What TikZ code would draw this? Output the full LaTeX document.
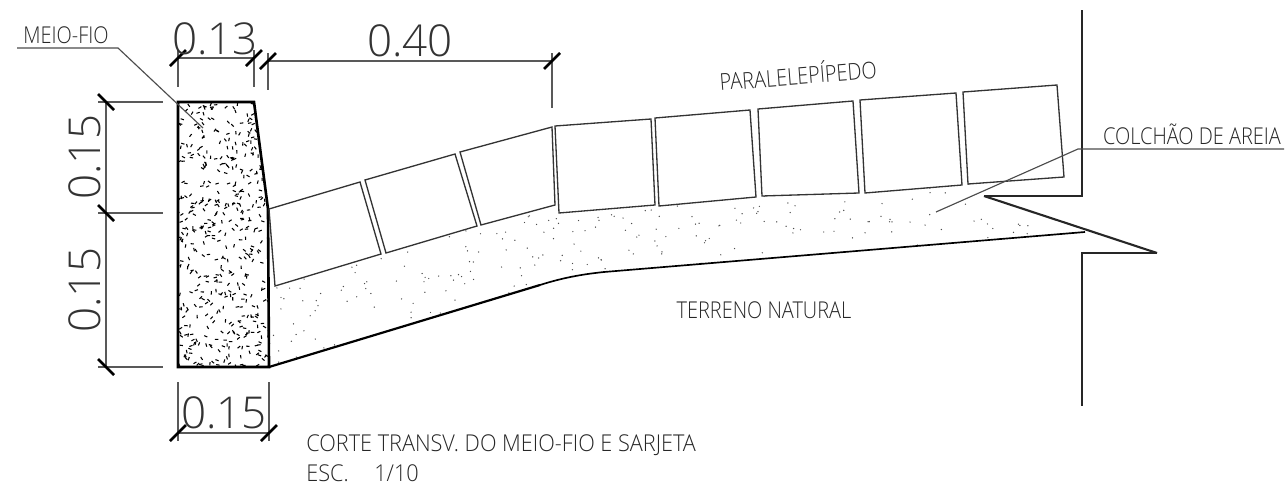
\documentclass[tikz,border=0pt]{standalone}
\usepackage{fontspec}
\newfontfamily\cadfont[FakeStretch=0.86]{Open Sans Light}
\newfontfamily\cadwide[FakeStretch=0.935]{Open Sans Light}
\newfontfamily\dimfont{Open Sans Light}
\usetikzlibrary{calc}

\tikzset{
  paver/.style={draw=black!80,line width=0.75pt,line join=miter},
  dimline/.style={draw=black!65,line width=0.65pt},
  tick/.style={draw=black,line width=1.6pt},
  leader/.style={draw=black!70,line width=0.65pt},
  heavy/.style={draw=black,line width=1.5pt,line join=miter},
  wall/.style={draw=black!85,line width=0.95pt,line join=miter},
  label/.style={text=black!85,inner sep=0pt,font=\cadfont\fontsize{13.2}{15}\selectfont},
  widelabel/.style={text=black!85,inner sep=0pt,anchor=west,font=\cadwide\fontsize{13.2}{15}\selectfont},
  dimtext/.style={text=black!80,inner sep=0pt,font=\dimfont\fontsize{25}{27}\selectfont}
}

\begin{document}
\begin{tikzpicture}[x=0.02cm,y=-0.02cm]
    \useasboundingbox (0,0) rectangle (1286,487);

    % Define the coordinates of the points
    \coordinate (curbtl) at (178,102);
    \coordinate (curbtr) at (254,102);
    \coordinate (curbm) at (268,209);
    \coordinate (curbbr) at (269,367);
    \coordinate (curbbl) at (178,367);
    \coordinate (dimleftt) at (106,102);
    \coordinate (dimleftm) at (106,213);
    \coordinate (dimleftb) at (106,367);
    \coordinate (dimtopa) at (178,58);
    \coordinate (dimtopb) at (254,58);
    \coordinate (dimtopc) at (268,61);
    \coordinate (dimtopd) at (552,61);
    \coordinate (dimbota) at (178,433);
    \coordinate (dimbotb) at (269,433);

    % Sand speckle
    \begin{scope}
        \clip (275,286) -- (381,254) -- (386,253) -- (477,226) -- (481,225) -- (555,205) -- (559,213) -- (655,205)
            -- (659,206) -- (756,197) -- (762,196) -- (859,193) -- (865,193) -- (962,185) -- (968,184) -- (1012,181)
            -- (1012,196) -- (984,197) -- (1030,222) -- (1035,236) -- (600,272) -- (540,285) -- (269,367) -- (269,290) -- cycle;
        \pgfmathsetseed{11}
        \foreach \i in {1,...,560} {
            \pgfmathsetmacro{\px}{269+rnd*770}
            \pgfmathsetmacro{\py}{180+rnd*187}
            \fill[black!70] (\px,\py) circle (0.7);
        }
    \end{scope}

    % Curb speckle
    \begin{scope}
        \clip (curbtl) -- (curbtr) -- (curbm) -- (curbbr) -- (curbbl) -- cycle;
        \pgfmathsetseed{5}
        \foreach \i in {1,...,470} {
            \pgfmathsetmacro{\px}{178+rnd*91}
            \pgfmathsetmacro{\py}{102+rnd*265}
            \pgfmathsetmacro{\pa}{rnd*360}
            \draw[black,line width=0.6pt] (\px,\py) -- ++(\pa:3.4);
        }
    \end{scope}

    % Draw the curb and the ground
    \draw[heavy] (curbtl) -- (curbtr) -- (curbm) -- (curbbr) -- (curbbl) -- cycle;
    \draw[heavy,line width=1.25pt] (curbbr) -- (540,285);
    \draw[heavy,line width=0.95pt] (540,285) .. controls (565,277) and (585,274) .. (604,272) -- (1085,232);
    \draw[wall] (1082,10) -- (1082,196) -- (984,196);
    \draw[wall,line width=1.2pt] (984,196) -- (1157,253);
    \draw[wall] (1157,253) -- (1082,253) -- (1082,406);

    % Draw the pavers
    \foreach \ax/\ay/\bx/\by/\cx/\cy/\dx/\dy in {
        269/209/360/182/381/254/275/286,
        365/180/455/154/477/226/386/253,
        460/152/552/127/555/205/481/225,
        555/126/651/119/655/205/559/213,
        655/118/750/110/756/197/659/206,
        758/109/853/101/859/193/762/196,
        860/100/956/93/962/185/865/193,
        963/92/1057/85/1064/177/968/184}
        \draw[paver] (\ax,\ay) -- (\bx,\by) -- (\cx,\cy) -- (\dx,\dy) -- cycle;

    % Draw the leaders
    \draw[leader] (17,48) -- (118,48) -- (203,128);
    \draw[leader] (936,212) -- (1078,149) -- (1284,149);

    % Draw the dimension lines
    \draw[dimline] (dimleftt) -- (dimleftb);
    \draw[dimline] (dimtopa) -- (dimtopb);
    \draw[dimline] (dimtopc) -- (dimtopd);
    \draw[dimline] (dimbota) -- (dimbotb);
    \foreach \point in {dimleftt,dimleftm,dimleftb}
        \draw[dimline] (\point) ++(-8,0) -- ($(\point)+(57,0)$);
    \foreach \point in {dimtopa,dimtopb,dimtopc}
        \draw[dimline] (\point) ++(0,-8) -- ($(\point)+(0,29)$);
    \draw[dimline] (dimtopd) ++(0,-8) -- ($(dimtopd)+(0,47)$);
    \foreach \point in {dimbota,dimbotb}
        \draw[dimline] (\point) ++(0,-51) -- ($(\point)+(0,8)$);
    \foreach \point in {dimleftt,dimleftm,dimleftb}
        \draw[tick] (\point) ++(-8,-8) -- ++(16,16);
    \foreach \point in {dimtopa,dimtopb,dimtopc,dimtopd,dimbota,dimbotb}
        \draw[tick] (\point) ++(-8,8) -- ++(16,-16);

    % Dimension texts
    \node[dimtext] (dimone) at (215,39) {0.13};
    \node[dimtext] (dimtwo) at (410,41) {0.40};
    \node[dimtext,rotate=90] (dimthree) at (85,157) {0.15};
    \node[dimtext,rotate=90] (dimfour) at (85,290) {0.15};
    \node[dimtext] (dimfive) at (224,413) {0.15};

    % Labels
    \node[label] (meiofio) at (66,35) {MEIO-FIO};
    \node[label,rotate=4.5] (paralele) at (798,74) {PARALELEPÍPEDO};
    \node[label] (colchao) at (1192,134) {COLCHÃO DE AREIA};
    \node[label] (terreno) at (764,310) {TERRENO NATURAL};
    \node[widelabel] (corte) at (306,445) {CORTE TRANSV. DO MEIO-FIO E SARJETA};
    \node[widelabel] (escala) at (306,473) {ESC.\hspace{1.1em}1/10};
\end{tikzpicture}
\end{document}
